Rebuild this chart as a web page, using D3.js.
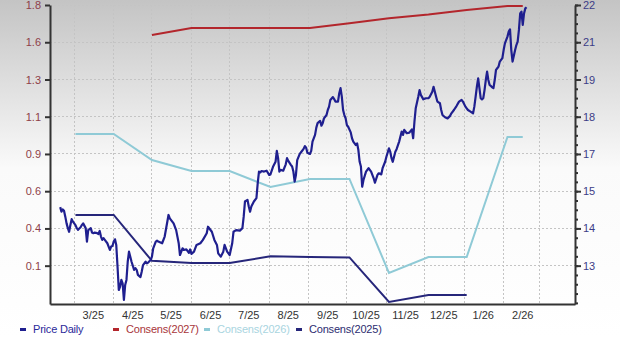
<!DOCTYPE html>
<html lang="en">

<head>
    <meta charset="UTF-8">
    <title>Price and Consensus</title>
    <script src="https://d3js.org/d3.v7.min.js"></script>
    <style>
        body {
            margin: 0;
        }

        svg text {
            font-family: "Liberation Sans", Arial, sans-serif;
            font-size: 11px;
        }

        .legend text {
            letter-spacing: -0.2px;
        }

        .grid line {
            stroke: #c4c4c4;
            stroke-dasharray: 2, 2;
            shape-rendering: crispEdges;
        }

        .axis path,
        .axis line {
            fill: none;
            stroke: #333;
            stroke-width: 2;
        }
    </style>
</head>

<body>
    <svg class="chart"></svg>

    <script>
        // days counted from 2025-03-01
        const priceDays = [-11, -10, -9, -8, -7, -6, -5, -4, -3, -2, -1, 1, 2, 3, 5, 6, 7, 9, 10, 11, 13, 14, 15, 16, 18, 19, 20, 21, 22, 23, 24, 26, 27, 28, 29, 30,
            31, 32, 33, 34, 35, 36, 37, 38, 39, 40, 41, 42, 43, 44, 45, 47, 48, 49, 50, 52, 53, 54, 56, 57, 58, 60, 61, 62, 64, 65, 66,
            69, 71, 74, 75, 78, 80, 82, 83, 85, 86, 88, 90, 91, 92, 94, 96, 99, 101, 104, 105, 108, 110, 112, 113, 115, 117, 118, 120, 122, 124, 125, 127, 130,
            132, 133, 134, 136, 137, 138, 139, 141, 143, 144, 145,
            146, 147, 149, 151, 153, 154, 156, 158, 159, 160, 161, 162, 164, 166, 167, 168, 170, 171, 172, 173, 174, 175, 177, 178, 180, 181, 182, 183, 185, 186,
            187, 189, 190, 191, 193, 194, 195, 196, 198, 199, 200, 201, 203, 204, 205, 207, 208, 209, 210, 211, 212, 213, 214, 215, 217, 218, 219, 221, 222, 223,
            224, 225, 226, 227, 229, 231, 233, 235, 236, 238, 239, 241, 242, 244, 245, 247, 248, 249, 250, 252, 253, 255, 257, 258, 259, 261, 263, 265, 266, 267,
            268, 270, 271, 272, 274, 276, 278, 279, 281, 282, 283, 284, 285, 287, 288, 289, 291, 293, 295, 296, 298, 300, 302,
            304, 305, 307, 308, 309, 311, 313, 314, 315, 316, 317, 318, 319, 320, 321, 322, 323, 324, 325, 326, 327, 328, 329, 330, 331, 332, 333, 334, 336, 337,
            338, 340, 341, 342, 343, 344, 346, 347, 348, 349, 350, 351, 352, 353, 354, 355];
        const priceValues = [14.78, 14.62, 14.70, 14.65, 14.44, 14.20, 14.03, 13.90, 14.14, 14.35, 14.26, 14.14, 14.03, 13.97, 14.06, 14.14, 14.20, 14.03, 13.55, 13.96,
            14.03, 13.87, 13.85, 13.87, 13.85, 13.82, 13.93, 13.73, 13.61, 13.67, 13.61, 13.49, 13.37, 13.25, 13.37, 13.39,
            13.55, 13.63, 13.43, 12.65, 11.82, 11.94, 12.18, 12.06, 11.47, 12.00, 12.18, 12.83, 13.19, 13.01, 12.83, 12.54, 12.60, 12.54, 12.36, 12.28, 12.48,
            12.71, 12.83, 12.77, 12.80, 12.89, 13.01, 13.31, 13.55, 13.58, 13.55,
            13.49, 13.73, 14.50, 14.38, 14.20, 13.96, 13.49, 13.07, 13.31, 13.25, 13.27, 13.15, 13.27, 13.11, 13.19, 13.43, 13.49, 13.61, 13.85, 14.08, 13.90,
            13.61, 13.43, 13.13, 13.01, 13.19, 13.43, 13.19, 13.07, 13.49, 13.90, 13.96, 13.94,
            14.03, 14.44, 14.98, 15.04, 14.80, 14.62, 14.80, 14.98, 15.10, 15.63, 16.05,
            16.02, 16.07, 16.05, 16.08, 15.93, 15.95, 16.22, 16.40, 16.79, 16.53, 16.05, 16.11, 16.08, 16.31, 16.53, 16.43, 16.29, 16.23, 16.05, 15.69, 15.93,
            16.46, 16.68, 16.74, 16.86, 16.96, 16.90, 16.72, 16.68, 16.79,
            17.12, 17.36, 17.62, 17.78, 17.86, 17.69, 17.78, 17.95, 18.07, 18.25, 18.37, 18.61, 18.71, 18.64, 18.55, 18.55, 18.85, 19.03, 18.73, 18.25, 18.07,
            17.95, 17.71, 17.65, 17.45, 17.24, 17.12, 17.00, 17.06, 16.82,
            16.40, 16.23, 15.51, 15.75, 16.05, 16.17, 16.05, 15.81, 15.65, 15.93, 15.99, 15.95, 16.17, 16.40, 16.58, 16.88, 16.76, 16.53, 16.40, 16.76, 16.85,
            17.12, 17.48, 17.36, 17.54, 17.42, 17.44, 17.56, 17.24, 17.83,
            18.31, 18.72, 18.96, 18.79, 18.63, 18.67, 18.67, 18.72, 18.90, 19.08, 18.90, 18.72, 18.55, 18.49, 18.25, 18.07, 17.99, 17.95, 18.04, 18.13, 18.25,
            18.39, 18.55,
            18.61, 18.55, 18.37, 18.31, 18.25, 18.19, 18.13, 18.37, 18.72, 19.08, 19.38, 19.03, 18.67, 18.63, 18.67, 18.96, 19.32, 19.62, 19.32, 19.14, 19.11,
            19.06, 19.03, 19.32, 19.68, 19.74, 19.80, 19.98, 20.10, 20.39,
            20.63, 20.87, 21.05, 21.13, 20.39, 19.98, 20.39, 20.57, 20.69, 21.11, 21.70, 21.76, 21.29, 21.70, 21.88, 21.92];

        const consDates = ["2025-03-02", "2025-04-01", "2025-05-01", "2025-06-01", "2025-07-01", "2025-08-02", "2025-09-02",
            "2025-10-03", "2025-11-03", "2025-12-04", "2026-01-03", "2026-02-04", "2026-02-16"];
        const cons2027 = [null, null, 1.627, 1.672, 1.672, 1.672, 1.672, 1.703, 1.735, 1.759, 1.788, 1.814, 1.814];
        const cons2026 = [0.989, 0.989, 0.821, 0.750, 0.750, 0.647, 0.699, 0.699, 0.093, 0.196, 0.196, 0.969, 0.969];
        const cons2025 = [0.467, 0.467, 0.171, 0.158, 0.158, 0.200, 0.196, 0.193, -0.094, -0.049, -0.049, null, null];

        const leftTickValues = [0.14, 0.38, 0.62, 0.86, 1.10, 1.34, 1.58, 1.82];
        const leftTickLabels = ["0.1", "0.4", "0.6", "0.9", "1.1", "1.3", "1.6", "1.8"];
        const rightTickValues = [12.69, 14.02, 15.35, 16.68, 18.01, 19.34, 20.67, 22.0];
        const rightTickLabels = ["13", "14", "15", "17", "18", "19", "21", "22"];
        const monthLabels = ["3/25", "4/25", "5/25", "6/25", "7/25", "8/25", "9/25", "10/25", "11/25", "12/25", "1/26", "2/26"];

        const seriesNames = ["Price Daily", "Consens(2027)", "Consens(2026)", "Consens(2025)"];
        const seriesColors = ["#1f1f8f", "#b3262c", "#8fcad6", "#26267a"];
        const legendTextColors = ["#2a2a9a", "#a8353a", "#a9d5df", "#2c2c70"];

        const W = 620, H = 337;
        const margin = { top: 5, right: 45, bottom: 33, left: 50 };
        const width = W - margin.left - margin.right;
        const height = H - margin.top - margin.bottom;

        const root = d3.select(".chart")
            .attr("width", W)
            .attr("height", H);

        const grad = root.append("defs").append("linearGradient")
            .attr("id", "bg")
            .attr("x1", 0).attr("y1", 0).attr("x2", 0).attr("y2", 1);
        grad.append("stop").attr("offset", "0%").attr("stop-color", "#c4c4c4");
        grad.append("stop").attr("offset", "50%").attr("stop-color", "#fafafa");
        grad.append("stop").attr("offset", "100%").attr("stop-color", "#ffffff");

        root.append("rect")
            .attr("width", W)
            .attr("height", H)
            .attr("fill", "url(#bg)");

        const svg = root.append("g")
            .attr("transform", `translate(${margin.left},${margin.top})`);

        const base = new Date(2025, 2, 1);
        const x = d3.scaleTime()
            .domain([new Date(2025, 1, 10), new Date(2026, 2, 29)])
            .range([0, width]);

        const yLeft = d3.scaleLinear()
            .domain([-0.107, 1.82])
            .range([height, 0]);

        const yRight = d3.scaleLinear()
            .domain([11.32, 22])
            .range([height, 0]);

        const parse = d3.timeParse("%Y-%m-%d");
        const consX = consDates.map(parse);
        const months = d3.timeMonth.range(new Date(2025, 2, 1), new Date(2026, 2, 2));

        // grid
        svg.append("g")
            .attr("class", "grid")
            .selectAll("line.h")
            .data(leftTickValues)
            .enter().append("line")
            .attr("x1", 0)
            .attr("x2", width)
            .attr("y1", d => yLeft(d))
            .attr("y2", d => yLeft(d));

        svg.append("g")
            .attr("class", "grid")
            .selectAll("line.v")
            .data(months)
            .enter().append("line")
            .attr("x1", d => x(d))
            .attr("x2", d => x(d))
            .attr("y1", 0)
            .attr("y2", height);

        // consensus lines
        const consSeries = [cons2027, cons2026, cons2025];
        consSeries.forEach((vals, k) => {
            const pts = vals.map((v, i) => ({ date: consX[i], value: v }));
            svg.append("path")
                .datum(pts)
                .attr("fill", "none")
                .attr("stroke", seriesColors[k + 1])
                .attr("stroke-width", 2)
                .attr("d", d3.line()
                    .defined(d => d.value !== null)
                    .x(d => x(d.date))
                    .y(d => yLeft(d.value)));
        });

        // price
        const price = priceDays.map((d, i) => ({ date: d3.timeDay.offset(base, d), value: priceValues[i] }));
        svg.append("path")
            .datum(price)
            .attr("fill", "none")
            .attr("stroke", seriesColors[0])
            .attr("stroke-width", 2.2)
            .attr("stroke-linejoin", "round")
            .attr("d", d3.line()
                .x(d => x(d.date))
                .y(d => yRight(d.value)));

        // axes
        const leftAxis = svg.append("g")
            .attr("class", "axis")
            .call(d3.axisLeft(yLeft)
                .tickValues(leftTickValues)
                .tickFormat((d, i) => leftTickLabels[i])
                .tickSizeInner(5)
                .tickSizeOuter(0)
                .tickPadding(4));
        leftAxis.selectAll("text").attr("fill", "#8e3f49");

        const minor = d3.range(0, 40).map(i => 22 - i * 0.3325).filter(v => v >= 11.32);
        svg.append("g")
            .attr("class", "axis")
            .attr("transform", `translate(${width},0)`)
            .call(d3.axisRight(yRight)
                .tickValues(minor)
                .tickFormat("")
                .tickSizeInner(3)
                .tickSizeOuter(0))
            .select(".domain").remove();
        const rightAxis = svg.append("g")
            .attr("class", "axis")
            .attr("transform", `translate(${width},0)`)
            .call(d3.axisRight(yRight)
                .tickValues(rightTickValues)
                .tickFormat((d, i) => rightTickLabels[i])
                .tickSizeInner(6)
                .tickSizeOuter(0)
                .tickPadding(2));
        rightAxis.selectAll("text").attr("fill", "#3c3c86");
        svg.selectAll(".axis line").attr("stroke-width", 1.5);

        svg.append("g")
            .attr("class", "axis")
            .attr("transform", `translate(0,${height})`)
            .call(d3.axisBottom(x).tickValues([]).tickSizeOuter(0));

        svg.append("g")
            .selectAll("text")
            .data(months.slice(0, monthLabels.length))
            .enter().append("text")
            .attr("x", d => x(d3.timeDay.offset(d, 15)))
            .attr("y", height + 15)
            .attr("text-anchor", "middle")
            .attr("fill", "#333")
            .text((d, i) => monthLabels[i]);

        // legend
        const legendX = [20, 113, 204, 296];
        const legend = root.append("g")
            .attr("class", "legend")
            .attr("transform", `translate(0,${H - 4})`);
        seriesNames.forEach((name, i) => {
            legend.append("rect")
                .attr("x", legendX[i])
                .attr("y", -5)
                .attr("width", 6)
                .attr("height", 3)
                .attr("fill", seriesColors[i]);
            legend.append("text")
                .attr("x", legendX[i] + 13)
                .attr("y", 0)
                .attr("fill", legendTextColors[i])
                .text(name);
        });
    </script>
</body>

</html>
